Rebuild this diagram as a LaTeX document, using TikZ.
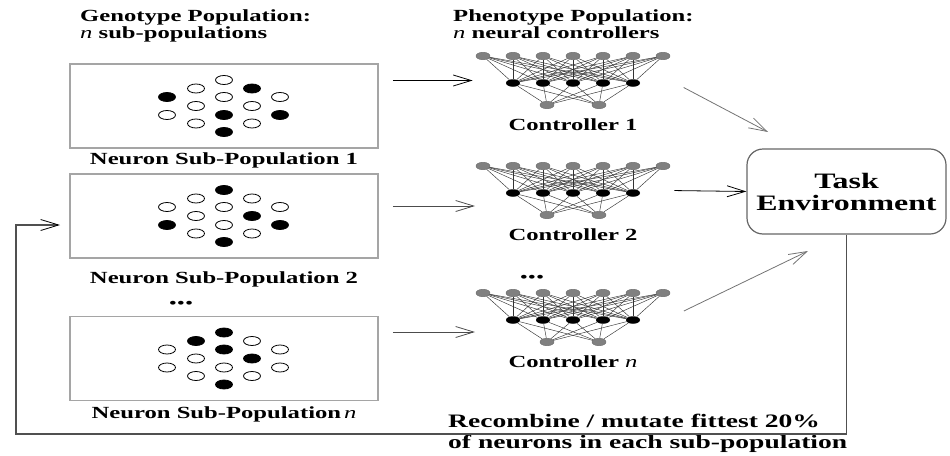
\documentclass[tikz,border=0pt]{standalone}
\usepackage{fontspec}
\setmainfont{Liberation Serif}[FakeStretch=1.45]
\usepackage{tikz}
\definecolor{boxgray}{RGB}{165, 165, 165}
\definecolor{unitgray}{RGB}{128, 128, 128}
\definecolor{loopgray}{RGB}{80, 80, 80}
\usetikzlibrary{shapes.geometric, arrows.meta, positioning, fit, calc}

% one neural controller: 7 inputs, 5 hidden, 2 outputs
\newcommand{\ctrlnet}[2]{%
    \foreach \i in {1,...,7}
        \node[inunit] (#1in\i) at (453+30*\i, #2) {};
    \foreach \j in {1,...,5}
        \node[hidunit] (#1hid\j) at (483+30*\j, #2+27) {};
    \node[inunit] (#1out1) at (547, #2+49) {};
    \node[inunit] (#1out2) at (599, #2+49) {};
    \foreach \i in {1,...,7}
        \foreach \j in {1,...,5}
            \draw[wire] (#1in\i) -- (#1hid\j);
    \foreach \j in {1,...,5}
        \foreach \k in {1,2}
            \draw[wire] (#1hid\j) -- (#1out\k);
    \node[fit=(#1in1)(#1in7)(#1out1), inner sep=0pt] (#1) {};
}

\begin{document}
\begin{tikzpicture}[
    x=1pt, y=-1pt,
    inunit/.style={ellipse, draw=black!60, fill=unitgray, minimum width=14pt, minimum height=7.5pt, inner sep=0pt},
    hidunit/.style={ellipse, fill=black, minimum width=14pt, minimum height=7.5pt, inner sep=0pt},
    wire/.style={black!80, line width=0.45pt},
    neuron/.style={ellipse, draw=black, line width=0.8pt, minimum width=17pt, minimum height=9pt, inner sep=0pt},
    subpop/.style={draw=boxgray, line width=1.5pt, minimum width=308pt, minimum height=84pt},
    envbox/.style={draw=black!60, line width=1.2pt, rounded corners=16pt, minimum width=199pt, minimum height=85pt, align=center, font=\fontsize{22}{22}\selectfont\bfseries},
    pipe/.style={-{Straight Barb[length=18pt, width=11pt]}, line width=0.8pt},
    slant/.style={pipe, draw=black!55},
    caption/.style={font=\fontsize{17}{17}\selectfont\bfseries, inner sep=0pt, anchor=base},
    heading/.style={caption, anchor=base west},
    more/.style={font=\fontsize{16}{16}\selectfont, inner sep=0pt}
]
    \useasboundingbox (0,0) rectangle (950,455);

    % Headings
    \node[heading] (genohead) at (80,21) {Genotype Population:};
    \node[heading] (genosub) at (80,38) {{\mdseries\itshape n} sub-populations};
    \node[heading] (phenohead) at (453,21) {Phenotype Population:};
    \node[heading] (phenosub) at (453,38) {{\mdseries\itshape n} neural controllers};

    % Neuron sub-populations
    \node[subpop] (pop1) at (224,106) {};
    \node[subpop] (pop2) at (224,216) {};
    \node[subpop] (pop3) at (224,358.5) {};
    \foreach \dx/\dy/\f [count=\k] in {-57/-9/black, -57/9/white, -28/-17.5/white, -28/0/white, -28/17.5/white,
        0/-26/white, 0/-9/white, 0/9/black, 0/26/black, 28/-17.5/black, 28/0/white, 28/17.5/white, 56/-9/white, 56/9/black}
        \node[neuron, fill=\f] (pop1n\k) at ([shift={(\dx,\dy)}]pop1.center) {};
    \foreach \dx/\dy/\f [count=\k] in {-57/-9/white, -57/9/black, -28/-17.5/white, -28/0/white, -28/17.5/white,
        0/-26/black, 0/-9/white, 0/9/white, 0/26/black, 28/-17.5/white, 28/0/black, 28/17.5/white, 56/-9/white, 56/9/black}
        \node[neuron, fill=\f] (pop2n\k) at ([shift={(\dx,\dy)}]pop2.center) {};
    \foreach \dx/\dy/\f [count=\k] in {-57/-9/white, -57/9/white, -28/-17.5/black, -28/0/white, -28/17.5/white,
        0/-26/black, 0/-9/black, 0/9/white, 0/26/black, 28/-17.5/white, 28/0/black, 28/17.5/white, 56/-9/white, 56/9/white}
        \node[neuron, fill=\f] (pop3n\k) at ([shift={(\dx,\dy)}]pop3.center) {};
    \node[caption] (poplab1) at (224,164) {Neuron Sub-Population 1};
    \node[caption] (poplab2) at (224,283) {Neuron Sub-Population 2};
    \node[caption] (poplab3) at (224,418) {Neuron Sub-Population\,{\mdseries\itshape n}};
    \node[more] (popdots) at (181,305) {\textbullet\textbullet\textbullet};

    % Controllers
    \ctrlnet{c1}{56}
    \ctrlnet{c2}{166}
    \ctrlnet{c3}{293}
    \node[caption] (ctrllab1) at (573,130) {Controller 1};
    \node[caption] (ctrllab2) at (573,240) {Controller 2};
    \node[caption] (ctrllab3) at (573,367) {Controller {\mdseries\itshape n}};
    \node[more] (ctrldots) at (532,279) {\textbullet\textbullet\textbullet};

    % Task environment
    \node[envbox] (env) at (846.5,191.5) {Task\\Environment};

    % Recombination note
    \node[heading, font=\fontsize{19}{19}\selectfont\bfseries] (note1) at (448,427) {Recombine / mutate fittest 20\%};
    \node[heading, font=\fontsize{19}{19}\selectfont\bfseries] (note2) at (448,448) {of neurons in each sub-population};

    % Arrows
    \coordinate (in2) at (475,206);
    \coordinate (in3) at (475,332);
    \coordinate (tip1) at (768,132);
    \coordinate (tip3) at (808,251);
    \draw[pipe, shorten <=14pt, shorten >=3pt] (pop1.east |- c1.west) -- (c1.west);
    \draw[pipe, draw=black!70, shorten <=14pt] (pop2.east |- in2) -- (in2);
    \draw[pipe, draw=black!70, shorten <=14pt] (pop3.east |- in3) -- (in3);
    \draw[slant, shorten <=15pt] (c1.east) -- (tip1);
    \draw[pipe, shorten <=4pt] (c2.east) -- (env.west);
    \draw[slant, shorten <=15pt] (c3.east) -- (tip3);

    % Feedback loop
    \coordinate (loopbot) at (16,434);
    \coordinate (loopin) at (60,225);
    \draw[loopgray, line width=1.6pt, -{Straight Barb[length=18pt, width=11pt, line width=0.8pt, color=black]}]
        (env.south) |- (loopbot) |- (loopin);
\end{tikzpicture}
\end{document}
